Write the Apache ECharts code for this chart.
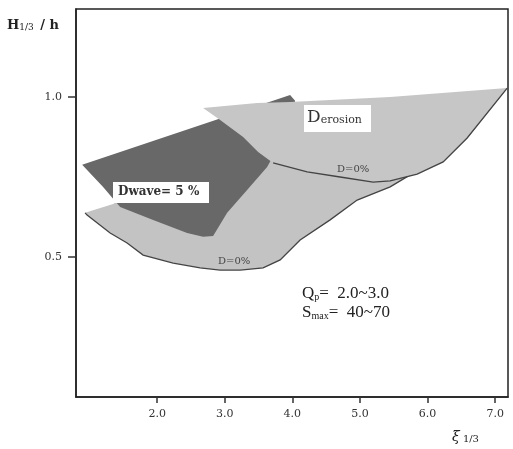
<!DOCTYPE html>
<html>
<head>
<meta charset="utf-8">
<script src="https://cdn.jsdelivr.net/npm/echarts@6/dist/echarts.min.js"></script>
<style>html,body{margin:0;padding:0;background:#fff}#c{width:513px;height:449px}</style>
</head>
<body>
<div id="c"></div>
<script>
// Tick labels
const xTicks = [2.0, 3.0, 4.0, 5.0, 6.0, 7.0];
const yTicks = [0.5, 1.0];

// Dwave = 5 % region (dark)
const waveX = [0.891, 3.967, 4.041, 3.893, 3.701, 3.627, 3.331, 3.036, 2.828, 2.680, 2.444, 1.941, 1.453, 1.201];
const waveY = [0.788, 1.006, 0.988, 0.866, 0.809, 0.781, 0.709, 0.638, 0.566, 0.563, 0.575, 0.616, 0.656, 0.719];

// Dwave D=0% region (light, lower)
const lowX = [0.935, 1.349, 2.636, 3.524, 5.595, 7.148, 6.586, 6.186, 5.817, 5.447, 4.959, 4.559, 4.115, 3.820, 3.568, 3.228, 2.932, 2.636, 2.237, 1.793, 1.556, 1.305, 0.964];
const lowY = [0.638, 0.666, 0.834, 0.928, 0.953, 1.022, 0.875, 0.803, 0.766, 0.719, 0.678, 0.616, 0.553, 0.491, 0.466, 0.459, 0.459, 0.466, 0.481, 0.506, 0.544, 0.575, 0.631];

// Derosion region (light, upper)
const eroX = [2.680, 3.479, 3.967, 5.447, 7.178, 6.586, 6.231, 5.846, 5.447, 5.195, 4.707, 4.219, 3.716, 3.494, 3.272, 2.932];
const eroY = [0.966, 0.981, 0.984, 1.000, 1.028, 0.872, 0.797, 0.759, 0.738, 0.734, 0.750, 0.766, 0.794, 0.828, 0.875, 0.928];

const chart = echarts.init(document.getElementById('c'), null, {renderer: 'canvas'});

function polySeries(name, xs, ys, fill, edgeFrom, edgeTo, z) {
  return {
    type: 'custom', name: name, z: z,
    data: [[xs[0], ys[0]]],
    renderItem: function (params, api) {
      const pts = xs.map((x, i) => api.coord([x, ys[i]]));
      const children = [{type: 'polygon', shape: {points: pts}, style: {fill: fill, stroke: null}}];
      if (edgeFrom !== null) {
        const line = [];
        for (let i = edgeFrom; i <= edgeTo; i++) line.push(pts[i % pts.length]);
        children.push({type: 'polyline', shape: {points: line}, style: {fill: null, stroke: '#444', lineWidth: 1.3}});
      }
      return {type: 'group', children: children};
    }
  };
}

const serif = 'DejaVu Serif';
chart.setOption({
  animation: false,
  grid: {left: 76, right: 5, top: 9, bottom: 52, show: true, borderColor: '#222', borderWidth: 1.5},
  xAxis: {
    type: 'value', min: 0.8, max: 7.19,
    axisLine: {show: true, lineStyle: {color: '#222', width: 1.5}},
    axisTick: {show: true, customValues: xTicks, length: 6, lineStyle: {color: '#333', width: 1.5}},
    axisLabel: {customValues: xTicks, formatter: v => v.toFixed(1), color: '#333', fontFamily: serif, fontSize: 11, margin: 12},
    splitLine: {show: false}
  },
  yAxis: {
    type: 'value', min: 0.0625, max: 1.275,
    axisLine: {show: true, lineStyle: {color: '#222', width: 1.5}},
    axisTick: {show: true, customValues: yTicks, length: 8, lineStyle: {color: '#333', width: 1.5}},
    axisLabel: {customValues: yTicks, formatter: v => v.toFixed(1), color: '#333', fontFamily: serif, fontSize: 11, margin: 14},
    splitLine: {show: false}
  },
  series: [
    polySeries('low', lowX, lowY, '#c3c3c3', 5, lowX.length, 1),
    polySeries('wave', waveX, waveY, '#686868', null, null, 2),
    polySeries('erosion', eroX, eroY, '#c6c6c6', 4, 12, 3)
  ],
  graphic: [
    {type: 'text', left: 7, top: 19, z: 10, style: {
      text: '{a|H}{s|1/3}{a| / h}', fill: '#222',
      rich: {a: {fontFamily: serif, fontWeight: 'bold', fontSize: 13, verticalAlign: 'bottom'},
             s: {fontFamily: serif, fontSize: 9, verticalAlign: 'bottom', padding: [0, 2, 0, 0]}}}},
    {type: 'text', left: 452, top: 430, z: 10, style: {
      text: '{a|ξ}{s| 1/3}', fill: '#222',
      rich: {a: {fontFamily: serif, fontStyle: 'italic', fontSize: 14, verticalAlign: 'bottom'},
             s: {fontFamily: serif, fontSize: 10, verticalAlign: 'bottom'}}}},
    {type: 'rect', shape: {x: 113, y: 182, width: 96, height: 21}, style: {fill: '#fff'}, z: 10},
    {type: 'text', left: 118, top: 186, z: 11, style: {text: 'Dwave= 5 %', fill: '#333', font: 'bold 12px "DejaVu Serif"'}},
    {type: 'rect', shape: {x: 304, y: 105, width: 67, height: 27}, style: {fill: '#fff'}, z: 10},
    {type: 'text', left: 307, top: 109, z: 11, style: {
      text: '{d|D}{e|erosion}', fill: '#333',
      rich: {d: {fontFamily: serif, fontSize: 17, verticalAlign: 'bottom'},
             e: {fontFamily: serif, fontSize: 11, verticalAlign: 'bottom'}}}},
    {type: 'text', left: 337, top: 164, z: 11, style: {text: 'D=0%', fill: '#444', font: '10px "DejaVu Serif"'}},
    {type: 'text', left: 218, top: 256, z: 11, style: {text: 'D=0%', fill: '#444', font: '10px "DejaVu Serif"'}},
    {type: 'text', left: 302, top: 283, z: 11, style: {
      text: '{a|Q}{s|p}{a|=  2.0~3.0}\n{a|S}{s|max}{a|=  40~70}', fill: '#222', lineHeight: 19,
      rich: {a: {fontFamily: 'Liberation Serif', fontSize: 17, verticalAlign: 'bottom', lineHeight: 19},
             s: {fontFamily: 'Liberation Serif', fontSize: 10, verticalAlign: 'bottom', lineHeight: 17}}}}
  ]
});
</script>
</body>
</html>
